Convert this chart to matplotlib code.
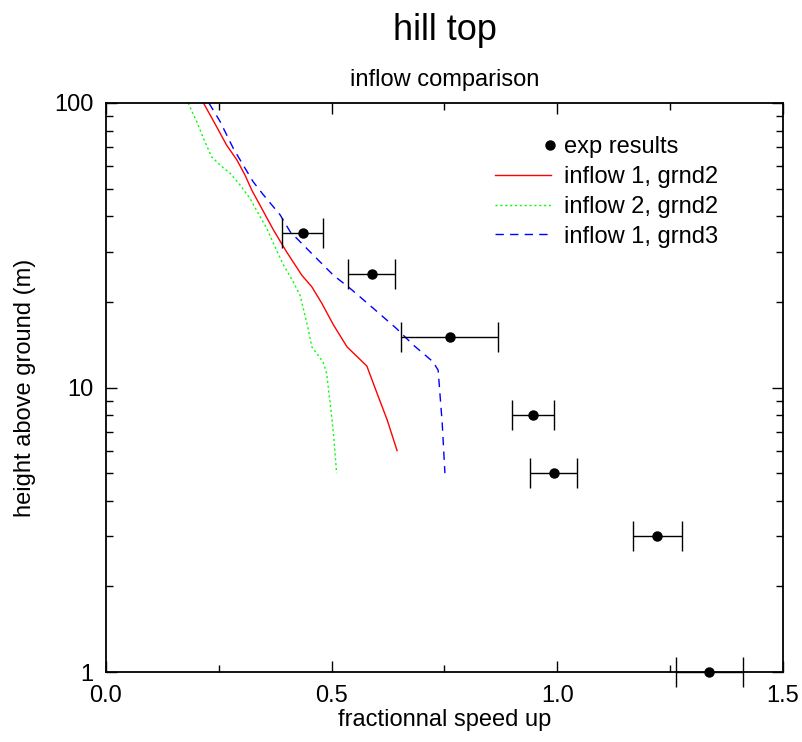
import matplotlib
matplotlib.use("Agg")
import matplotlib.pyplot as plt
from matplotlib.lines import Line2D
from matplotlib.legend_handler import HandlerLine2D
from matplotlib.ticker import FixedLocator, LogLocator, NullFormatter

plt.rcParams['font.family'] = ['Liberation Sans', 'DejaVu Sans']

# experimental results: speed up, height, error bar bounds
exp_x = [0.436, 0.589, 0.762, 0.946, 0.993, 1.221, 1.336]
exp_z = [35, 25, 15, 8, 5, 3, 1]
exp_lo = [0.390, 0.536, 0.654, 0.900, 0.940, 1.168, 1.263]
exp_hi = [0.481, 0.640, 0.869, 0.993, 1.044, 1.276, 1.411]

# inflow 1, grnd2
in1g2_x = [0.216, 0.245, 0.267, 0.290, 0.308, 0.323, 0.341, 0.371, 0.400, 0.434,
           0.456, 0.478, 0.504, 0.534, 0.578, 0.600, 0.623, 0.645]
in1g2_z = [100, 82.6, 71.2, 63.1, 55.8, 49.4, 43.8, 35.8, 30.0, 24.8,
           22.6, 19.8, 16.6, 13.9, 11.9, 9.6, 7.7, 6.0]

# inflow 2, grnd2
in2g2_x = [0.182, 0.201, 0.216, 0.234, 0.253, 0.275, 0.297, 0.319, 0.337, 0.356,
           0.371, 0.393, 0.415, 0.430, 0.437, 0.448, 0.456, 0.481, 0.489, 0.496,
           0.504, 0.511]
in2g2_z = [100, 86, 75.1, 64.7, 60.5, 56.6, 51.5, 46.2, 41.0, 36.3,
           32.1, 27.0, 23.5, 21.1, 19.0, 16.1, 13.9, 12.3, 11.2, 9.0,
           6.9, 5.0]

# inflow 1, grnd3
in1g3_x = [0.228, 0.253, 0.282, 0.304, 0.326, 0.349, 0.386, 0.408, 0.452, 0.504,
           0.541, 0.592, 0.644, 0.681, 0.725, 0.736, 0.740, 0.745, 0.751]
in1g3_z = [100, 86, 69.3, 60.5, 52.9, 47.5, 40.4, 35.3, 30.0, 24.8,
           22.3, 19.0, 16.1, 14.1, 12.3, 11.5, 9.5, 7.5, 5.0]

RED, GREEN, BLUE = '#ff0000', '#00ff00', '#0000ff'
DOTS = (0, (1.5, 2))
DASHES = (0, (6, 4.5))


class RightMarker(HandlerLine2D):
    # single point drawn at the right end of the legend handle
    def create_artists(self, legend, orig_handle, xdescent, ydescent,
                       width, height, fontsize, trans):
        ln = Line2D([-xdescent + width - 1], [(height - ydescent) / 2])
        self.update_prop(ln, orig_handle, legend)
        ln.set_transform(trans)
        return [ln]


fig = plt.figure(figsize=(8.03, 7.42), dpi=100)
ax = fig.add_axes([0.132, 0.0943, 0.843, 0.7669])

xerr = [[x - lo for x, lo in zip(exp_x, exp_lo)], [hi - x for x, hi in zip(exp_x, exp_hi)]]
ax.errorbar(exp_x, exp_z, xerr=xerr, fmt='o', color='black', ms=6.5,
            elinewidth=1, capsize=11, capthick=1, clip_on=False, zorder=5)
ax.plot(in1g2_x, in1g2_z, color=RED, lw=1, ls='-')
ax.plot(in2g2_x, in2g2_z, color=GREEN, lw=1, ls=DOTS)
ax.plot(in1g3_x, in1g3_z, color=BLUE, lw=1, ls=DASHES)

ax.set_yscale('log')
ax.set_xlim(0, 1.5)
ax.set_ylim(1, 100)
ax.xaxis.set_major_locator(FixedLocator([0, 0.5, 1.0, 1.5]))
ax.xaxis.set_minor_locator(FixedLocator([0.25, 0.75, 1.25]))
ax.set_xticklabels(['0.0', '0.5', '1.0', '1.5'])
ax.yaxis.set_major_locator(FixedLocator([1, 10, 100]))
ax.set_yticklabels(['1', '10', '100'])
ax.yaxis.set_minor_locator(LogLocator(base=10, subs=range(2, 10)))
ax.yaxis.set_minor_formatter(NullFormatter())
ax.tick_params(which='both', direction='in', top=True, right=True, labelsize=17, width=1)
ax.tick_params(which='major', length=8, pad=9)
ax.tick_params(which='minor', length=5)
for s in ax.spines.values():
    s.set_linewidth(1.3)

ax.set_xlabel('fractionnal speed up', fontsize=17, labelpad=2)
ax.set_ylabel('height above ground (m)', fontsize=17, labelpad=13)
ax.set_title('inflow comparison', fontsize=17, pad=12)
# main title is centred over the axes, not the figure
fig.suptitle('hill top', fontsize=26, x=0.5535, y=0.982)

exp_handle = Line2D([], [], marker='o', ls='none', color='black', ms=6.5)
h1 = Line2D([], [], color=RED, lw=1)
h2 = Line2D([], [], color=GREEN, lw=1, ls=DOTS)
h3 = Line2D([], [], color=BLUE, lw=1, ls=DASHES)
ax.legend([exp_handle, h1, h2, h3],
          ['exp results', 'inflow 1, grnd2', 'inflow 2, grnd2', 'inflow 1, grnd3'],
          handler_map={exp_handle: RightMarker()},
          loc='upper right', bbox_to_anchor=(0.936, 0.979), frameon=False,
          fontsize=17, handlelength=2.4, handletextpad=0.55, labelspacing=0.33)

fig.savefig('out.png', dpi=100)
